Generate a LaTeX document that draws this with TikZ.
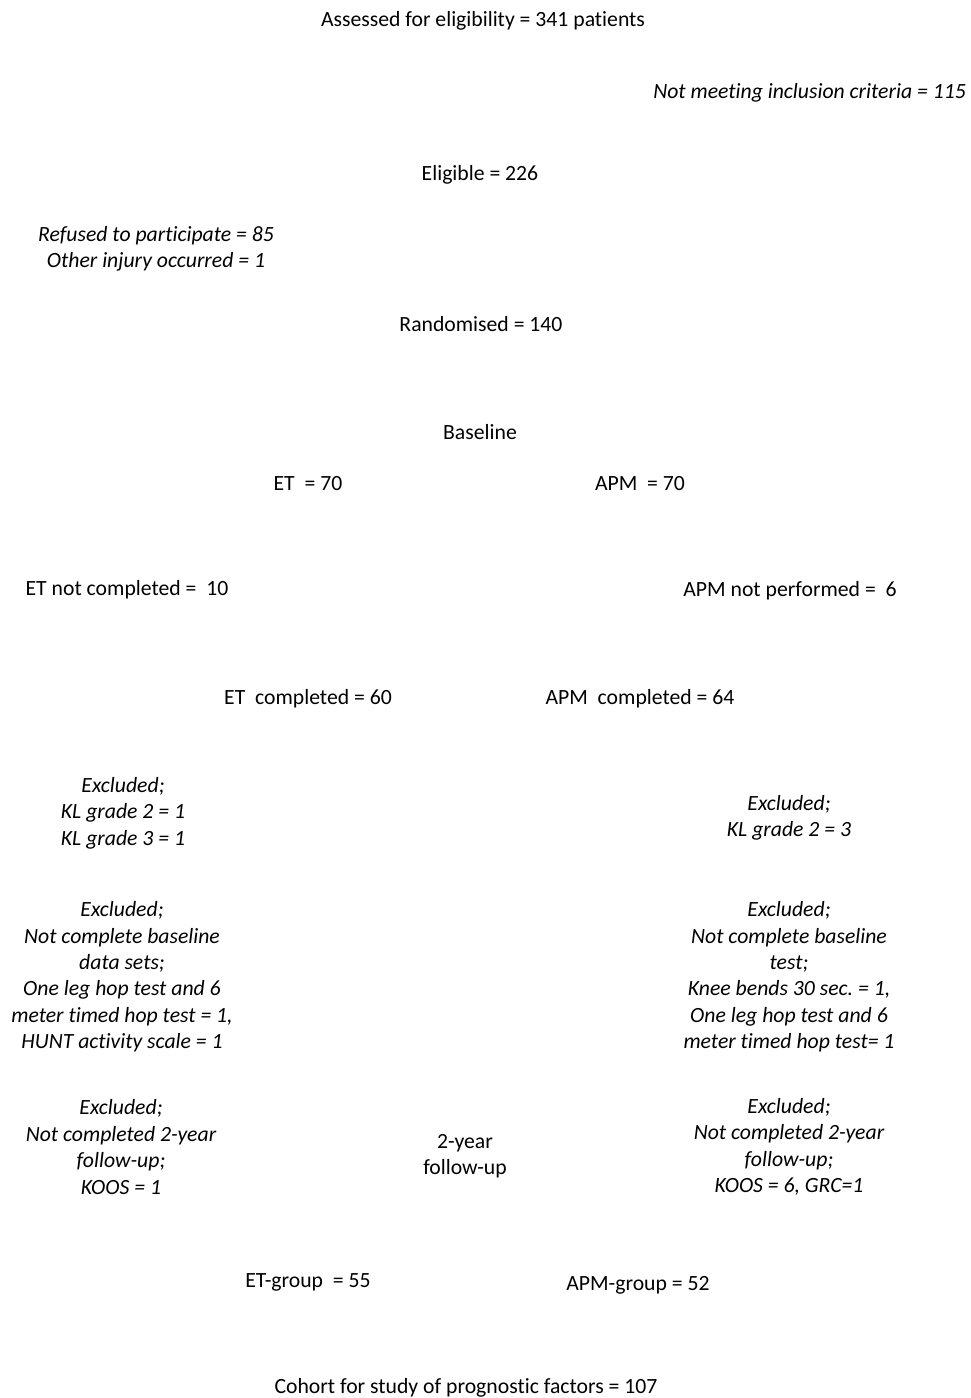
\documentclass[tikz,border=0pt]{standalone}
\usepackage{fontspec}
\setmainfont{Carlito}[Ligatures={NoCommon}]
\usepackage{tikz}
\frenchspacing

\tikzset{
  flowtxt/.style={inner sep=0pt,align=center,font=\fontsize{21.7}{26.4}\selectfont},
  droptxt/.style={flowtxt,font=\fontsize{21.7}{26.4}\selectfont\itshape}
}

\begin{document}
\begin{tikzpicture}[x=1pt,y=-1pt]
  \useasboundingbox (0,0) rectangle (970,1398);

  % enrolment
  \node[flowtxt] (assessed) at (483,21) {Assessed for eligibility = 341 patients};
  \node[droptxt,anchor=east] (notmeet) at (966,93) {Not meeting inclusion criteria = 115};
  \node[flowtxt] (eligible) at (480,175) {Eligible = 226};
  \node[droptxt] (refused) at (156,249) {Refused to participate = 85\\ Other injury occurred = 1};
  \node[flowtxt] (random) at (481,324) {Randomised = 140};

  % allocation
  \node[flowtxt] (baseline) at (480,432) {Baseline};
  \node[flowtxt] (etalloc) at (308,484) {ET\ \ = 70};
  \node[flowtxt] (apmalloc) at (640,484) {APM\ \ = 70};
  \node[flowtxt] (etnot) at (127,590) {ET not completed =\ \ 10};
  \node[flowtxt] (apmnot) at (790,591) {APM not performed =\ \ 6};
  \node[flowtxt] (etdone) at (308,699) {ET\ \ completed = 60};
  \node[flowtxt] (apmdone) at (640,699) {APM\ \ completed = 64};

  % exclusions
  \node[droptxt] (etkl) at (123,813) {Excluded;\\ KL grade 2 = 1\\ KL grade 3 = 1};
  \node[droptxt] (apmkl) at (789,818) {Excluded;\\ KL grade 2 = 3};
  \node[droptxt] (etbase) at (122,977) {Excluded;\\ Not complete baseline\\ data sets;\\ One leg hop test and 6\\ meter timed hop test = 1,\\ HUNT activity scale = 1};
  \node[droptxt] (apmbase) at (789,977) {Excluded;\\ Not complete baseline\\ test;\\ Knee bends 30 sec. = 1,\\ One leg hop test and 6\\ meter timed hop test= 1};
  \node[droptxt] (etfu) at (121,1147) {Excluded;\\ Not completed 2-year\\ follow-up;\\ KOOS = 1};
  \node[flowtxt] (followup) at (465,1156) {2-year\\ follow-up};
  \node[droptxt] (apmfu) at (789,1147) {Excluded;\\ Not completed 2-year\\ follow-up;\\ KOOS = 6, GRC=1};

  % analysis
  \node[flowtxt] (etgroup) at (308,1282) {ET-group\ \ = 55};
  \node[flowtxt] (apmgroup) at (638,1285) {APM-group = 52};
  \node[flowtxt] (cohort) at (466,1388) {Cohort for study of prognostic factors = 107};
\end{tikzpicture}
\end{document}
